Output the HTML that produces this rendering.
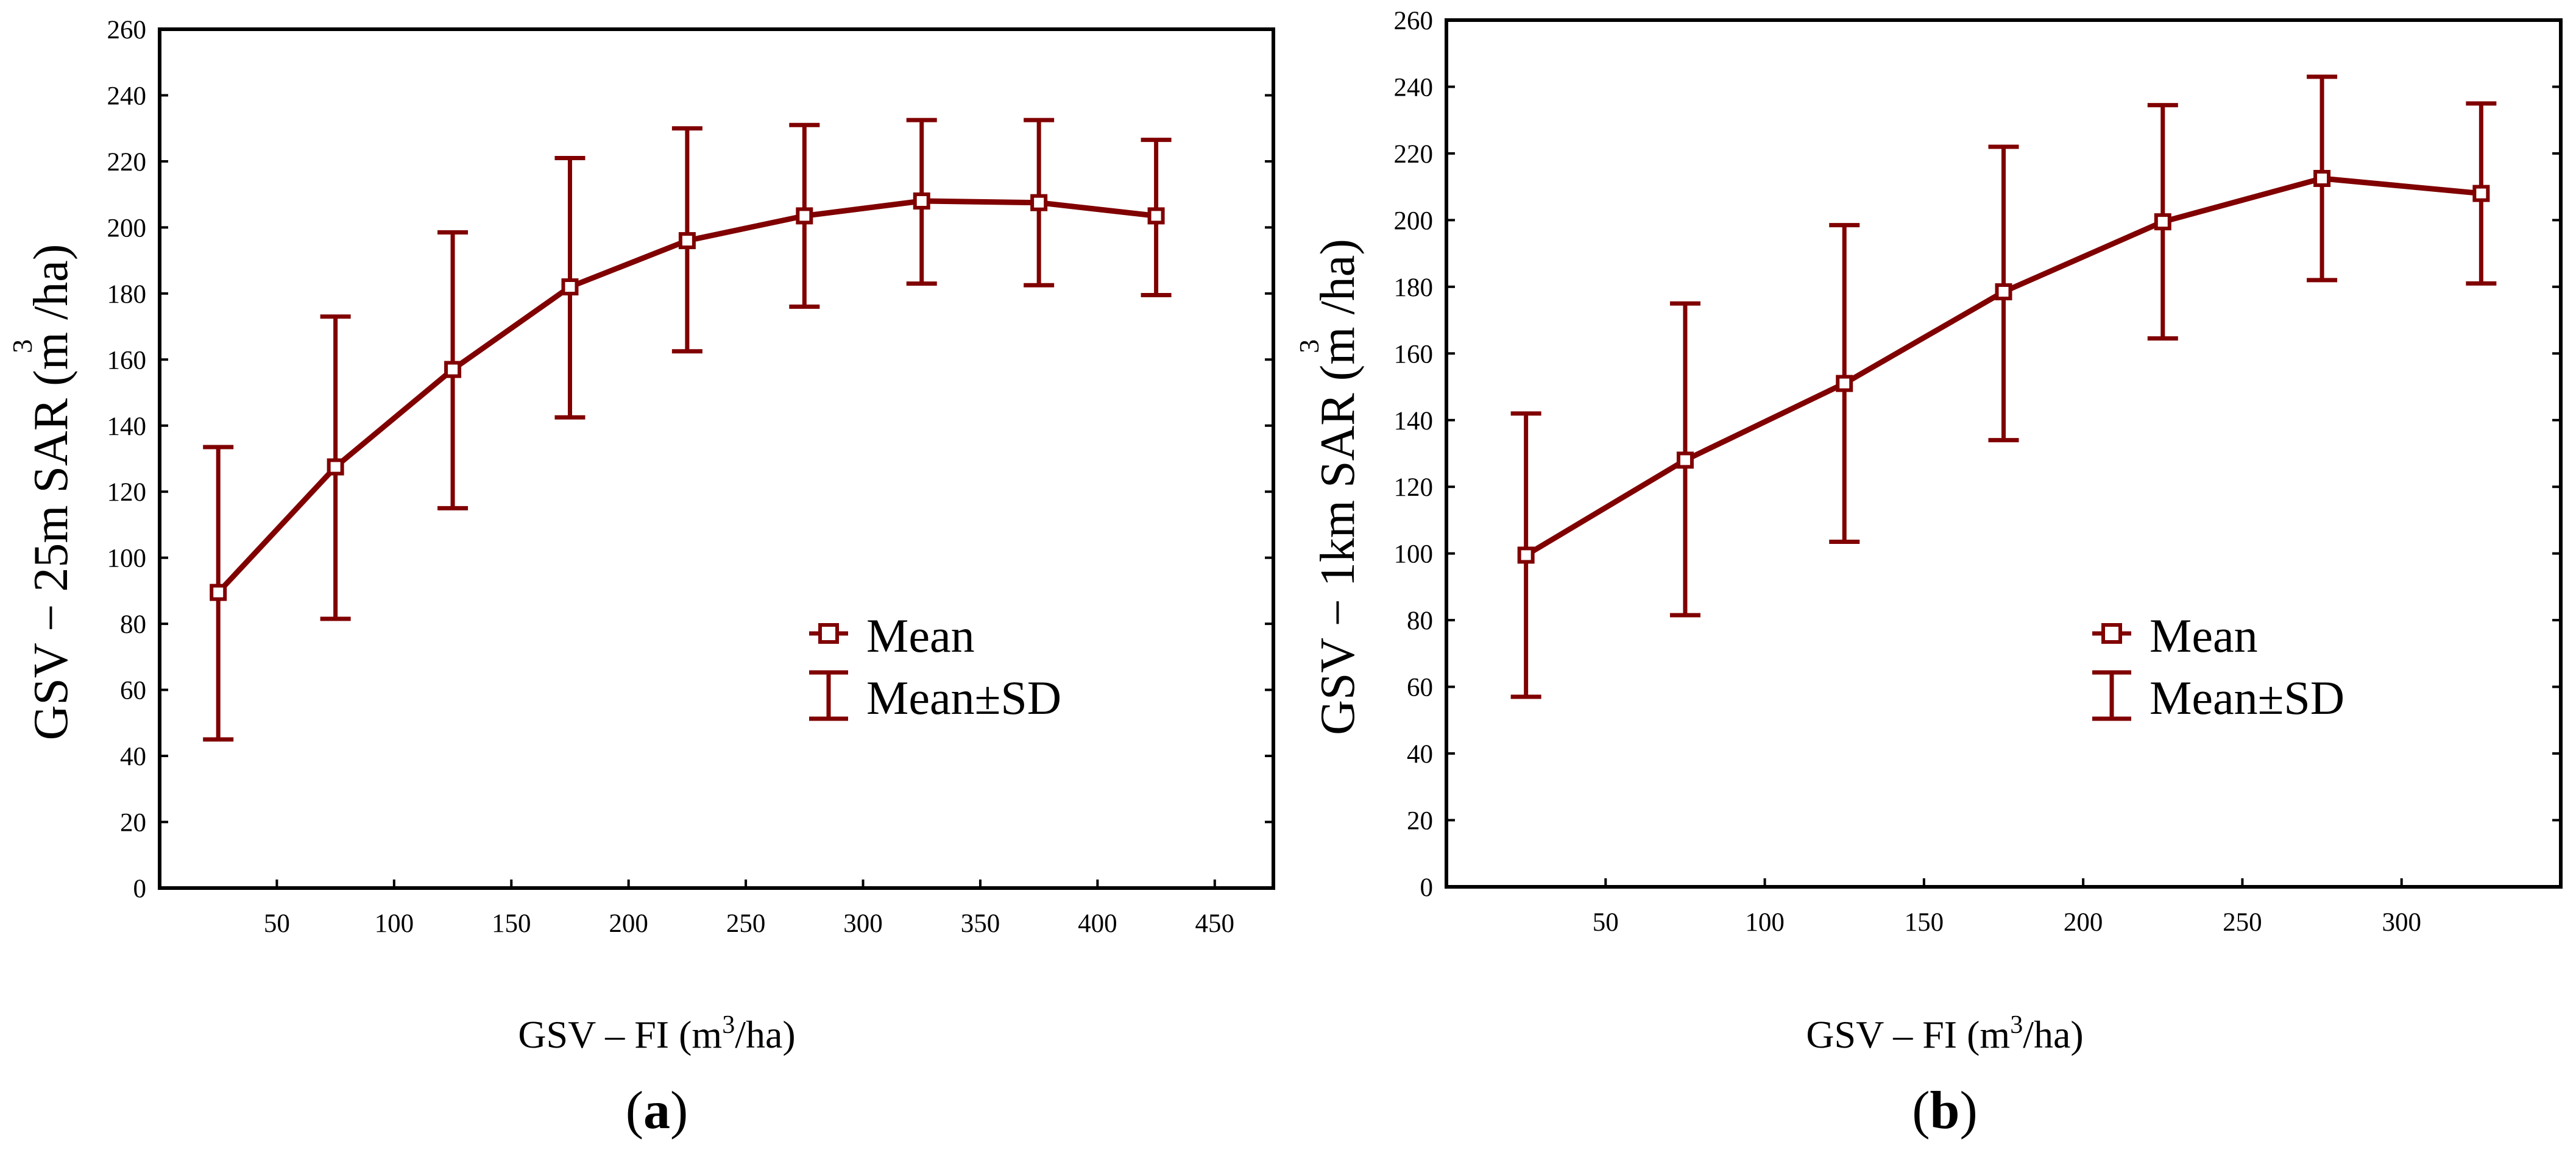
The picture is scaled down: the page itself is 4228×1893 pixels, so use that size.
<!DOCTYPE html>
<html><head><meta charset="utf-8"><style>
html,body{margin:0;padding:0;background:#fff}
svg{display:block;font-family:"Liberation Serif",serif}
</style></head><body>
<svg id="s" width="4228" height="1893" viewBox="0 0 4228 1893"></svg>
<script>
const catsA=[25,75,125,175,225,275,325,375,425];
const meanA=[89.5,127.5,157,182,196,203.5,208,207.5,203.5];
const upA=[133.5,173,198.5,221,230,231,232.5,232.5,226.5];
const loA=[45,81.5,115,142.5,162.5,176,183,182.5,179.5];
const xTicksA=[50,100,150,200,250,300,350,400,450];
const catsB=[25,75,125,175,225,275,325];
const meanB=[99.5,128,151,178.5,199.5,212.5,208];
const upB=[142,175,198.5,222,234.5,243,235];
const loB=[57,81.5,103.5,134,164.5,182,181];
const xTicksB=[50,100,150,200,250,300];
const yTicks=[0,20,40,60,80,100,120,140,160,180,200,220,240,260];
const NS="http://www.w3.org/2000/svg";
const svg=document.getElementById('s');
const C='#800000';
function mk(t,a,p){const e=document.createElementNS(NS,t);for(const k in a)e.setAttribute(k,a[k]);(p||svg).appendChild(e);return e;}
function panel(o){
  const g=mk('g',{});
  
  
  const X=v=>o.l+(v-0)/o.xmax*(o.r-o.l);
  const Y=v=>o.b-(v/260)*(o.b-o.t);
  yTicks.forEach(v=>{
    const y=Y(v);
    mk('line',{x1:o.l,x2:o.l+14,y1:y,y2:y,stroke:'#000','stroke-width':4},g);
    mk('line',{x1:o.r,x2:o.r-14,y1:y,y2:y,stroke:'#000','stroke-width':4},g);
    const t=mk('text',{x:o.l-22,y:y+15,'text-anchor':'end','font-size':43},g);
    
    
    t.textContent=v;
  });
  o.xt.forEach(v=>{
    const x=X(v);
    mk('line',{x1:x,x2:x,y1:o.b,y2:o.b-14,stroke:'#000','stroke-width':4},g);
    const t=mk('text',{x:x,y:o.b+72,'text-anchor':'middle','font-size':43},g);
    
    
    t.textContent=v;
  });
  const fr=mk('rect',{x:o.l,y:o.t,width:o.r-o.l,height:o.b-o.t,fill:'none',stroke:'#000','stroke-width':6},g);
  
  
  o.cats.forEach((c,i)=>{
    const x=X(c),y1=Y(o.up[i]),y2=Y(o.lo[i]);
    const eg=mk('g',{stroke:C,'stroke-width':7},g);
    
    
    mk('line',{x1:x,x2:x,y1:y1,y2:y2},eg);
    mk('line',{x1:x-25,x2:x+25,y1:y1,y2:y1},eg);
    mk('line',{x1:x-25,x2:x+25,y1:y2,y2:y2},eg);
  });
  const pl=mk('polyline',{points:o.cats.map((c,i)=>X(c)+','+Y(o.mean[i])).join(' '),fill:'none',stroke:C,'stroke-width':9},g);
  
  
  o.cats.forEach((c,i)=>{
    const r=mk('rect',{x:X(c)-11,y:Y(o.mean[i])-11,width:22,height:22,fill:'#fff',stroke:C,'stroke-width':6},g);
    
    
  });
  const lg=mk('g',{},g);
  
  
  mk('line',{x1:o.lx-32,x2:o.lx+32,y1:o.ly,y2:o.ly,stroke:C,'stroke-width':7},lg);
  mk('rect',{x:o.lx-14,y:o.ly-14,width:28,height:28,fill:'#fff',stroke:C,'stroke-width':6},lg);
  mk('text',{x:o.lx+62,y:o.ly+30,'font-size':78},lg).textContent='Mean';
  mk('line',{x1:o.lx,x2:o.lx,y1:o.ly+64,y2:o.ly+140,stroke:C,'stroke-width':7},lg);
  mk('line',{x1:o.lx-32,x2:o.lx+32,y1:o.ly+64,y2:o.ly+64,stroke:C,'stroke-width':7},lg);
  mk('line',{x1:o.lx-32,x2:o.lx+32,y1:o.ly+140,y2:o.ly+140,stroke:C,'stroke-width':7},lg);
  mk('text',{x:o.lx+62,y:o.ly+132,'font-size':78},lg).textContent='Mean±SD';
  const cy=(o.t+o.b)/2+55;
  const yt=mk('text',{x:0,y:0,'text-anchor':'middle','font-size':80,transform:`translate(${o.l-152},${cy}) rotate(-90)`},g);
  
  
  yt.textContent=o.ytitle;
  mk('text',{x:0,y:0,'font-size':46,transform:`translate(${o.l-210},${o.sup}) rotate(-90)`},g).textContent='3';
  const xt=mk('text',{x:o.xc,y:1720,'text-anchor':'middle','font-size':64},g);
  
  
  xt.innerHTML='GSV – FI (m<tspan dy="-24" font-size="42">3</tspan><tspan dy="24">/ha)</tspan>';
  const cap=mk('text',{x:o.xc,y:1852,'text-anchor':'middle','font-size':88},g);
  
  
  cap.innerHTML='(<tspan font-weight="bold">'+o.letter+'</tspan>)';
}
panel({name:'panel-a',l:262,r:2090,t:48,b:1458,xmax:475,xt:xTicksA,cats:catsA,mean:meanA,up:upA,lo:loA,lx:1360,ly:1040,ytitle:'GSV − 25m SAR (m  /ha)',sup:580,xc:1078,letter:'a'});
panel({name:'panel-b',l:2374,r:4203,t:33,b:1456,xmax:350,xt:xTicksB,cats:catsB,mean:meanB,up:upB,lo:loB,lx:3466,ly:1040,ytitle:'GSV − 1km SAR (m  /ha)',sup:580,xc:3192,letter:'b'});
</script>
</body></html>
